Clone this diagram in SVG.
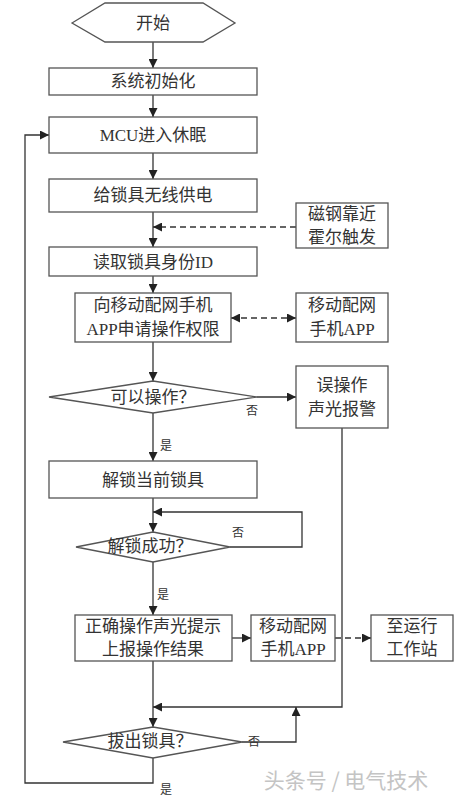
<svg xmlns="http://www.w3.org/2000/svg" width="460" height="800" viewBox="0 0 460 800">
<defs>
<marker id="ah" viewBox="0 0 10 10" refX="10" refY="5" markerWidth="9" markerHeight="9" markerUnits="userSpaceOnUse" orient="auto-start-reverse">
<path d="M0,0 L10,5 L0,10 z" fill="#222"/>
</marker>
<style>
.n{fill:#fff;stroke:#555;stroke-width:1.3}
.t{font-family:"Liberation Serif","Noto Sans CJK SC",serif;font-size:17px;fill:#333;text-anchor:middle;dominant-baseline:central}
.s{font-family:"Liberation Serif","Noto Sans CJK SC",serif;font-size:12px;fill:#333;text-anchor:middle;dominant-baseline:central}
.c{fill:none;stroke:#333;stroke-width:1.3}
.a{marker-end:url(#ah)}
.b{marker-start:url(#ah)}
.d{stroke-dasharray:6,4}
</style>
</defs>
<rect width="460" height="800" fill="#fff"/>
<g id="connectors">
<path class="c a" d="M153,42 V68"/>
<path class="c a" d="M153,95 V117"/>
<path class="c a" d="M153,153 V179"/>
<path class="c a" d="M153,212 V247"/>
<path class="c d a" d="M296,227 H153"/>
<path class="c a" d="M153,276 V293"/>
<path class="c d a b" d="M231,318 H296"/>
<path class="c a" d="M153,342 V381"/>
<path class="c a" d="M257,397 H296"/>
<path class="c a" d="M153,413 V461"/>
<path class="c a" d="M153,498 V532"/>
<path class="c a" d="M230,547 H302 V512 H153"/>
<path class="c a" d="M153,562 V615"/>
<path class="c a" d="M232,638 H251"/>
<path class="c d a" d="M335,638 H371"/>
<path class="c a" d="M153,661 V727"/>
<path class="c a" d="M342,428 V707 H153"/>
<path class="c a" d="M242,742 H296 V707"/>
<path class="c a" d="M153,758 V783 H25 V135 H49"/>
</g>
<g id="start">
<polygon class="n" points="72,23 105,3 203,3 235,23 203,42 105,42"/>
<text class="t" x="153" y="23">开始</text>
</g>
<g id="init">
<rect class="n" x="49" y="68" width="208" height="27"/>
<text class="t" x="153" y="81">系统初始化</text>
</g>
<g id="sleep">
<rect class="n" x="49" y="117" width="208" height="36"/>
<text class="t" x="153" y="135">MCU进入休眠</text>
</g>
<g id="power">
<rect class="n" x="49" y="179" width="208" height="33"/>
<text class="t" x="153" y="195">给锁具无线供电</text>
</g>
<g id="hall">
<rect class="n" x="296" y="203" width="92" height="45"/>
<text class="t" x="342" y="214">磁钢靠近</text>
<text class="t" x="342" y="237">霍尔触发</text>
</g>
<g id="readid">
<rect class="n" x="49" y="247" width="208" height="29"/>
<text class="t" x="153" y="262">读取锁具身份ID</text>
</g>
<g id="request">
<rect class="n" x="75" y="293" width="156" height="49"/>
<text class="t" x="153" y="305">向移动配网手机</text>
<text class="t" x="153" y="329">APP申请操作权限</text>
</g>
<g id="app1">
<rect class="n" x="296" y="293" width="92" height="49"/>
<text class="t" x="342" y="305">移动配网</text>
<text class="t" x="342" y="329">手机APP</text>
</g>
<g id="canop">
<polygon class="n" points="49,397 153,381 257,397 153,413"/>
<text class="t" x="153" y="397">可以操作？</text>
<text class="s" x="252" y="411">否</text>
<text class="s" x="166" y="446">是</text>
</g>
<g id="alarm">
<rect class="n" x="296" y="366" width="92" height="62"/>
<text class="t" x="342" y="385">误操作</text>
<text class="t" x="342" y="409">声光报警</text>
</g>
<g id="unlock">
<rect class="n" x="49" y="461" width="208" height="37"/>
<text class="t" x="153" y="480">解锁当前锁具</text>
</g>
<g id="unlockok">
<polygon class="n" points="76,547 153,532 230,547 153,562"/>
<text class="t" x="150" y="546">解锁成功？</text>
<text class="s" x="238" y="533">否</text>
<text class="s" x="163" y="595">是</text>
</g>
<g id="report">
<rect class="n" x="75" y="615" width="157" height="46"/>
<text class="t" x="153" y="626">正确操作声光提示</text>
<text class="t" x="153" y="649">上报操作结果</text>
</g>
<g id="app2">
<rect class="n" x="251" y="615" width="84" height="46"/>
<text class="t" x="293" y="626">移动配网</text>
<text class="t" x="293" y="649">手机APP</text>
</g>
<g id="station">
<rect class="n" x="371" y="615" width="82" height="46"/>
<text class="t" x="412" y="626">至运行</text>
<text class="t" x="412" y="649">工作站</text>
</g>
<g id="pullout">
<polygon class="n" points="63,742 153,727 242,742 153,758"/>
<text class="t" x="150" y="741">拔出锁具？</text>
<text class="s" x="254" y="742">否</text>
<text class="s" x="166" y="790">是</text>
</g>
<text x="346" y="779" style="font-family:'Noto Sans CJK SC',sans-serif;font-size:21px;fill:#c4c4c4;text-anchor:middle;dominant-baseline:central">头条号 / 电气技术</text>
</svg>
